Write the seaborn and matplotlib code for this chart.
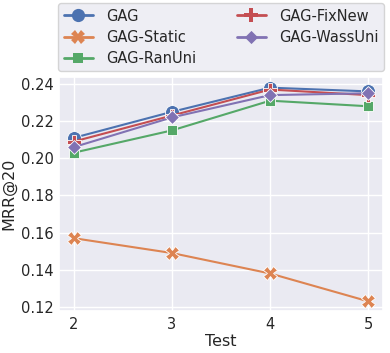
import matplotlib
matplotlib.use("Agg")
import matplotlib.pyplot as plt
import seaborn as sns
import pandas as pd

tests = [2, 3, 4, 5]
gag = [0.211, 0.225, 0.238, 0.236]
gag_static = [0.157, 0.149, 0.138, 0.123]
gag_ranuni = [0.203, 0.215, 0.231, 0.228]
gag_fixnew = [0.209, 0.223, 0.237, 0.234]
gag_wassuni = [0.206, 0.222, 0.234, 0.235]
methods = ["GAG", "GAG-Static", "GAG-RanUni", "GAG-FixNew", "GAG-WassUni"]

rows = []
for name, vals in zip(methods, [gag, gag_static, gag_ranuni, gag_fixnew, gag_wassuni]):
    for t, v in zip(tests, vals):
        rows.append({"Test": t, "MRR@20": v, "Method": name})
df = pd.DataFrame(rows)

sns.set_theme(style="darkgrid")
fig = plt.figure(figsize=(3.9, 3.53), dpi=100)
ax = fig.add_axes([59/390, 1-311/353, (383-59)/390, (311-77)/353])
sns.lineplot(data=df, x="Test", y="MRR@20", hue="Method", style="Method",
             markers=True, dashes=False, markersize=10, linewidth=1.5,
             markeredgewidth=0.6, ax=ax)
ax.set_ylim(0.1178, 0.24375)
ax.set_xlim(1.85, 5.15)
ax.set_xticks(tests)
ax.set_yticks([0.12, 0.14, 0.16, 0.18, 0.20, 0.22, 0.24])
ax.set_yticklabels(["0.12", "0.14", "0.16", "0.18", "0.20", "0.22", "0.24"])
ax.tick_params(labelsize=10.5, length=0, pad=4)
ax.set_xlabel("Test", fontsize=11.5, labelpad=2)
ax.set_ylabel("MRR@20", fontsize=11.5, labelpad=3)
h, l = ax.get_legend_handles_labels()
ax.legend_.remove()
for hd in h:
    hd.set_markersize(9.5)
    hd.set_markeredgewidth(0)
    hd.set_linewidth(2.0)
fig.legend(h, l, ncol=2, loc="upper left", bbox_to_anchor=(58/390, 1-3/353),
           fontsize=10.5, frameon=True, handlelength=2.0, columnspacing=2.8,
           handletextpad=0.9, borderaxespad=0, labelspacing=0.42,
           markerscale=1.0, borderpad=0.38)
fig.savefig("out.png", dpi=100)
